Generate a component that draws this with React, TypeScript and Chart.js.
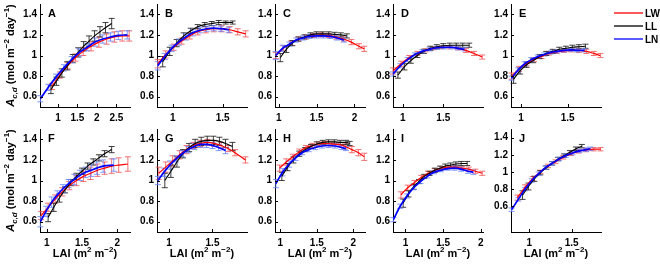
import React, { useEffect, useRef } from "react";
import { Chart, registerables } from "chart.js";
Chart.register(...registerables);

const FONT = '"Liberation Sans", Arial, Helvetica, sans-serif';

// ---------------- DATA ----------------
const SERIES_NAMES = ["LW", "LL", "LN"];
const Y_TICKS = [0.6, 0.8, 1, 1.2, 1.4];
const X_TICKS = [1, 1.5, 2, 2.5];

// Panel A
const A_LW_x = [0.85, 1.05, 1.25, 1.45, 1.65, 1.85, 2.05, 2.25, 2.45, 2.65, 2.83];
const A_LW_y = [0.7, 0.81, 0.9, 0.98, 1.04, 1.09, 1.13, 1.16, 1.18, 1.19, 1.19];
const A_LW_e = [0.03, 0.03, 0.03, 0.035, 0.04, 0.045, 0.05, 0.05, 0.05, 0.05, 0.05];
const A_LL_x = [0.82, 0.96, 1.1, 1.24, 1.38, 1.52, 1.66, 1.8, 1.94, 2.08, 2.22, 2.38];
const A_LL_y = [0.67, 0.75, 0.83, 0.9, 0.97, 1.03, 1.09, 1.14, 1.19, 1.23, 1.27, 1.31];
const A_LL_e = [0.04, 0.04, 0.04, 0.04, 0.04, 0.045, 0.045, 0.05, 0.05, 0.05, 0.05, 0.05];
const A_LN_x = [0.55, 0.75, 0.95, 1.15, 1.35, 1.55, 1.75, 1.95, 2.15, 2.35, 2.55, 2.78];
const A_LN_y = [0.58, 0.69, 0.79, 0.88, 0.96, 1.03, 1.08, 1.13, 1.16, 1.18, 1.195, 1.2];
const A_LN_e = [0.03, 0.03, 0.03, 0.03, 0.03, 0.035, 0.035, 0.04, 0.04, 0.04, 0.04, 0.04];

// Panel B
const B_LW_x = [0.85, 0.93, 1.01, 1.09, 1.17, 1.25, 1.33, 1.41, 1.49, 1.57, 1.65, 1.73];
const B_LW_y = [0.92, 1.01, 1.08, 1.14, 1.19, 1.23, 1.25, 1.26, 1.26, 1.25, 1.23, 1.21];
const B_LW_e = [0.04, 0.035, 0.03, 0.03, 0.03, 0.03, 0.03, 0.03, 0.03, 0.03, 0.03, 0.03];
const B_LL_x = [0.9, 0.97, 1.04, 1.11, 1.18, 1.25, 1.32, 1.39, 1.46, 1.53, 1.6];
const B_LL_y = [0.94, 1.04, 1.12, 1.19, 1.24, 1.28, 1.3, 1.31, 1.32, 1.32, 1.32];
const B_LL_e = [0.05, 0.04, 0.035, 0.03, 0.025, 0.02, 0.02, 0.02, 0.02, 0.015, 0.015];
const B_LN_x = [0.85, 0.92, 0.99, 1.06, 1.13, 1.2, 1.27, 1.34, 1.41, 1.48, 1.56];
const B_LN_y = [0.9, 0.99, 1.07, 1.13, 1.18, 1.22, 1.245, 1.26, 1.265, 1.26, 1.25];
const B_LN_e = [0.04, 0.03, 0.03, 0.03, 0.03, 0.03, 0.025, 0.025, 0.025, 0.025, 0.025];

// Panel C
const C_LW_x = [0.96, 1.06, 1.16, 1.26, 1.36, 1.46, 1.56, 1.66, 1.76, 1.86, 1.96, 2.06, 2.13];
const C_LW_y = [1.0, 1.07, 1.12, 1.16, 1.18, 1.195, 1.2, 1.195, 1.18, 1.16, 1.13, 1.09, 1.065];
const C_LW_e = [0.03, 0.025, 0.02, 0.02, 0.02, 0.02, 0.02, 0.02, 0.02, 0.02, 0.025, 0.025, 0.025];
const C_LL_x = [1.02, 1.1, 1.18, 1.26, 1.34, 1.42, 1.5, 1.58, 1.66, 1.74, 1.82, 1.9];
const C_LL_y = [0.98, 1.06, 1.12, 1.16, 1.18, 1.2, 1.21, 1.21, 1.21, 1.205, 1.2, 1.19];
const C_LL_e = [0.04, 0.03, 0.025, 0.02, 0.02, 0.02, 0.02, 0.02, 0.02, 0.02, 0.02, 0.02];
const C_LN_x = [0.96, 1.05, 1.14, 1.23, 1.32, 1.41, 1.5, 1.59, 1.68, 1.77, 1.86];
const C_LN_y = [1.0, 1.07, 1.11, 1.15, 1.17, 1.185, 1.19, 1.19, 1.185, 1.17, 1.15];
const C_LN_e = [0.04, 0.03, 0.02, 0.02, 0.02, 0.02, 0.02, 0.02, 0.02, 0.02, 0.02];

// Panel D
const D_LW_x = [0.88, 0.98, 1.08, 1.18, 1.28, 1.38, 1.48, 1.58, 1.68, 1.78, 1.88, 1.98];
const D_LW_y = [0.85, 0.92, 0.98, 1.02, 1.05, 1.07, 1.08, 1.08, 1.07, 1.05, 1.02, 0.985];
const D_LW_e = [0.03, 0.025, 0.02, 0.02, 0.015, 0.015, 0.015, 0.015, 0.015, 0.02, 0.02, 0.02];
const D_LL_x = [0.94, 1.02, 1.1, 1.18, 1.26, 1.34, 1.42, 1.5, 1.58, 1.66, 1.74, 1.82];
const D_LL_y = [0.81, 0.89, 0.95, 1.0, 1.04, 1.07, 1.085, 1.095, 1.1, 1.1, 1.1, 1.1];
const D_LL_e = [0.03, 0.03, 0.025, 0.02, 0.02, 0.02, 0.02, 0.02, 0.02, 0.02, 0.02, 0.02];
const D_LN_x = [0.88, 0.97, 1.06, 1.15, 1.24, 1.33, 1.42, 1.51, 1.6, 1.68, 1.76];
const D_LN_y = [0.82, 0.9, 0.96, 1.01, 1.04, 1.06, 1.075, 1.08, 1.08, 1.07, 1.06];
const D_LN_e = [0.02, 0.02, 0.02, 0.015, 0.015, 0.015, 0.015, 0.015, 0.015, 0.015, 0.015];

// Panel E
const E_LW_x = [0.9, 0.98, 1.06, 1.14, 1.22, 1.3, 1.38, 1.46, 1.54, 1.62, 1.7, 1.78, 1.85];
const E_LW_y = [0.8, 0.87, 0.92, 0.96, 0.99, 1.02, 1.035, 1.045, 1.05, 1.05, 1.04, 1.02, 1.0];
const E_LW_e = [0.03, 0.025, 0.02, 0.02, 0.02, 0.015, 0.015, 0.015, 0.015, 0.02, 0.02, 0.02, 0.02];
const E_LL_x = [0.92, 0.99, 1.06, 1.13, 1.2, 1.27, 1.34, 1.41, 1.48, 1.55, 1.62, 1.69];
const E_LL_y = [0.77, 0.85, 0.91, 0.95, 0.99, 1.02, 1.04, 1.06, 1.07, 1.08, 1.085, 1.09];
const E_LL_e = [0.04, 0.03, 0.025, 0.02, 0.02, 0.02, 0.02, 0.02, 0.02, 0.02, 0.02, 0.02];
const E_LN_x = [0.9, 0.97, 1.04, 1.11, 1.18, 1.25, 1.32, 1.39, 1.46, 1.53, 1.6, 1.68];
const E_LN_y = [0.78, 0.86, 0.92, 0.96, 0.99, 1.01, 1.03, 1.04, 1.05, 1.055, 1.05, 1.05];
const E_LN_e = [0.02, 0.02, 0.02, 0.02, 0.015, 0.015, 0.015, 0.015, 0.015, 0.015, 0.015, 0.015];

// Panel F
const F_LW_x = [0.92, 1.02, 1.12, 1.22, 1.32, 1.42, 1.52, 1.62, 1.72, 1.82, 1.92, 2.02, 2.15];
const F_LW_y = [0.66, 0.74, 0.82, 0.89, 0.95, 1.0, 1.04, 1.07, 1.1, 1.12, 1.14, 1.15, 1.16];
const F_LW_e = [0.04, 0.04, 0.04, 0.04, 0.04, 0.05, 0.05, 0.06, 0.06, 0.06, 0.07, 0.07, 0.07];
const F_LL_x = [1.02, 1.1, 1.18, 1.26, 1.34, 1.42, 1.5, 1.58, 1.66, 1.74, 1.82, 1.92];
const F_LL_y = [0.64, 0.74, 0.83, 0.91, 0.98, 1.04, 1.09, 1.14, 1.18, 1.22, 1.26, 1.3];
const F_LL_e = [0.04, 0.04, 0.04, 0.03, 0.03, 0.03, 0.03, 0.03, 0.03, 0.03, 0.03, 0.03];
const F_LN_x = [0.91, 0.99, 1.07, 1.15, 1.23, 1.31, 1.39, 1.47, 1.55, 1.63, 1.71, 1.8, 1.95];
const F_LN_y = [0.6, 0.7, 0.79, 0.86, 0.92, 0.97, 1.01, 1.05, 1.08, 1.1, 1.12, 1.14, 1.15];
const F_LN_e = [0.05, 0.05, 0.05, 0.04, 0.04, 0.04, 0.05, 0.05, 0.05, 0.06, 0.06, 0.06, 0.06];

// Panel G
const G_LW_x = [0.88, 0.96, 1.04, 1.12, 1.2, 1.28, 1.36, 1.44, 1.52, 1.6, 1.68, 1.76, 1.88];
const G_LW_y = [1.07, 1.13, 1.19, 1.25, 1.3, 1.34, 1.36, 1.37, 1.36, 1.34, 1.31, 1.27, 1.2];
const G_LW_e = [0.06, 0.05, 0.05, 0.04, 0.04, 0.03, 0.03, 0.03, 0.03, 0.03, 0.03, 0.03, 0.03];
const G_LL_x = [0.95, 1.02, 1.09, 1.16, 1.23, 1.3, 1.37, 1.44, 1.51, 1.58, 1.65, 1.73];
const G_LL_y = [1.0, 1.09, 1.18, 1.26, 1.32, 1.36, 1.38, 1.39, 1.39, 1.38, 1.36, 1.33];
const G_LL_e = [0.07, 0.06, 0.05, 0.04, 0.04, 0.04, 0.04, 0.04, 0.04, 0.04, 0.04, 0.04];
const G_LN_x = [0.87, 0.94, 1.01, 1.08, 1.15, 1.22, 1.29, 1.36, 1.43, 1.5, 1.57, 1.65];
const G_LN_y = [1.0, 1.08, 1.15, 1.21, 1.26, 1.3, 1.33, 1.35, 1.35, 1.34, 1.32, 1.29];
const G_LN_e = [0.04, 0.04, 0.04, 0.03, 0.03, 0.03, 0.03, 0.03, 0.03, 0.03, 0.03, 0.03];

// Panel H
const H_LW_x = [0.99, 1.08, 1.17, 1.26, 1.35, 1.44, 1.53, 1.62, 1.71, 1.8, 1.89, 1.98, 2.07, 2.15];
const H_LW_y = [1.12, 1.18, 1.23, 1.28, 1.32, 1.34, 1.355, 1.36, 1.355, 1.35, 1.33, 1.3, 1.27, 1.23];
const H_LW_e = [0.03, 0.03, 0.025, 0.025, 0.02, 0.02, 0.02, 0.02, 0.02, 0.02, 0.025, 0.03, 0.03, 0.035];
const H_LL_x = [1.02, 1.1, 1.18, 1.26, 1.34, 1.42, 1.5, 1.58, 1.66, 1.74, 1.82, 1.9, 1.95];
const H_LL_y = [1.04, 1.13, 1.2, 1.26, 1.3, 1.33, 1.355, 1.37, 1.375, 1.375, 1.37, 1.37, 1.36];
const H_LL_e = [0.04, 0.035, 0.03, 0.025, 0.02, 0.02, 0.02, 0.02, 0.02, 0.02, 0.02, 0.02, 0.02];
const H_LN_x = [0.94, 1.03, 1.12, 1.21, 1.3, 1.39, 1.48, 1.57, 1.66, 1.75, 1.84, 1.9];
const H_LN_y = [0.97, 1.08, 1.16, 1.22, 1.27, 1.3, 1.32, 1.335, 1.34, 1.335, 1.32, 1.31];
const H_LN_e = [0.04, 0.035, 0.03, 0.025, 0.02, 0.02, 0.02, 0.02, 0.02, 0.02, 0.02, 0.02];

// Panel I
const I_LW_x = [0.94, 1.03, 1.12, 1.21, 1.3, 1.39, 1.48, 1.57, 1.66, 1.75, 1.84, 1.93, 2.02];
const I_LW_y = [0.86, 0.93, 0.98, 1.03, 1.07, 1.1, 1.12, 1.13, 1.13, 1.12, 1.11, 1.09, 1.07];
const I_LW_e = [0.03, 0.025, 0.02, 0.02, 0.02, 0.015, 0.015, 0.015, 0.015, 0.015, 0.02, 0.02, 0.02];
const I_LL_x = [0.97, 1.04, 1.11, 1.18, 1.25, 1.32, 1.39, 1.46, 1.53, 1.6, 1.67, 1.74, 1.82];
const I_LL_y = [0.78, 0.87, 0.94, 0.99, 1.04, 1.07, 1.1, 1.12, 1.14, 1.15, 1.16, 1.165, 1.165];
const I_LL_e = [0.04, 0.03, 0.025, 0.02, 0.02, 0.02, 0.02, 0.02, 0.02, 0.02, 0.02, 0.02, 0.02];
const I_LN_x = [0.84, 0.93, 1.02, 1.11, 1.2, 1.29, 1.38, 1.47, 1.56, 1.65, 1.74, 1.83, 1.9];
const I_LN_y = [0.62, 0.75, 0.85, 0.93, 0.99, 1.04, 1.08, 1.1, 1.115, 1.12, 1.11, 1.09, 1.08];
const I_LN_e = [0.02, 0.02, 0.02, 0.02, 0.02, 0.015, 0.015, 0.015, 0.015, 0.02, 0.02, 0.02, 0.02];

// Panel J
const J_LW_x = [0.86, 0.95, 1.04, 1.13, 1.22, 1.31, 1.4, 1.49, 1.58, 1.67, 1.76, 1.84];
const J_LW_y = [0.7, 0.82, 0.92, 1.0, 1.07, 1.12, 1.17, 1.21, 1.24, 1.255, 1.265, 1.265];
const J_LW_e = [0.03, 0.03, 0.025, 0.02, 0.02, 0.02, 0.02, 0.02, 0.02, 0.02, 0.02, 0.02];
const J_LL_x = [0.92, 0.99, 1.06, 1.13, 1.2, 1.27, 1.34, 1.41, 1.48, 1.55, 1.62];
const J_LL_y = [0.73, 0.83, 0.92, 0.99, 1.05, 1.1, 1.15, 1.19, 1.23, 1.27, 1.3];
const J_LL_e = [0.05, 0.04, 0.03, 0.025, 0.02, 0.02, 0.02, 0.02, 0.02, 0.02, 0.02];
const J_LN_x = [0.79, 0.87, 0.95, 1.03, 1.11, 1.19, 1.27, 1.35, 1.43, 1.51, 1.59, 1.67, 1.72];
const J_LN_y = [0.56, 0.68, 0.8, 0.9, 0.98, 1.05, 1.1, 1.15, 1.19, 1.22, 1.245, 1.26, 1.27];
const J_LN_e = [0.02, 0.02, 0.02, 0.02, 0.02, 0.02, 0.02, 0.02, 0.02, 0.02, 0.02, 0.02, 0.02];

// ---------------- LAYOUT / STYLE ----------------
type S = { x: number[]; y: number[]; e: number[] };
const ser = (x: number[], y: number[], e: number[]): S => ({ x, y, e });

interface PanelDef {
  letter: string;
  col: number;
  row: number;
  xMin: number;
  xMax: number;
  yMin: number;
  yMax: number;
  LW: S;
  LL: S;
  LN: S;
}

const PANELS: PanelDef[] = [
  { letter: "A", col: 0, row: 0, xMin: 0.54, xMax: 2.85, yMin: 0.5, yMax: 1.5, LW: ser(A_LW_x, A_LW_y, A_LW_e), LL: ser(A_LL_x, A_LL_y, A_LL_e), LN: ser(A_LN_x, A_LN_y, A_LN_e) },
  { letter: "B", col: 1, row: 0, xMin: 0.843, xMax: 1.743, yMin: 0.5, yMax: 1.5, LW: ser(B_LW_x, B_LW_y, B_LW_e), LL: ser(B_LL_x, B_LL_y, B_LL_e), LN: ser(B_LN_x, B_LN_y, B_LN_e) },
  { letter: "C", col: 2, row: 0, xMin: 0.95, xMax: 2.14, yMin: 0.5, yMax: 1.5, LW: ser(C_LW_x, C_LW_y, C_LW_e), LL: ser(C_LL_x, C_LL_y, C_LL_e), LN: ser(C_LN_x, C_LN_y, C_LN_e) },
  { letter: "D", col: 3, row: 0, xMin: 0.88, xMax: 1.99, yMin: 0.5, yMax: 1.5, LW: ser(D_LW_x, D_LW_y, D_LW_e), LL: ser(D_LL_x, D_LL_y, D_LL_e), LN: ser(D_LN_x, D_LN_y, D_LN_e) },
  { letter: "E", col: 4, row: 0, xMin: 0.893, xMax: 1.857, yMin: 0.5, yMax: 1.5, LW: ser(E_LW_x, E_LW_y, E_LW_e), LL: ser(E_LL_x, E_LL_y, E_LL_e), LN: ser(E_LN_x, E_LN_y, E_LN_e) },
  { letter: "F", col: 0, row: 1, xMin: 0.905, xMax: 2.18, yMin: 0.5, yMax: 1.5, LW: ser(F_LW_x, F_LW_y, F_LW_e), LL: ser(F_LL_x, F_LL_y, F_LL_e), LN: ser(F_LN_x, F_LN_y, F_LN_e) },
  { letter: "G", col: 1, row: 1, xMin: 0.86, xMax: 1.898, yMin: 0.5, yMax: 1.5, LW: ser(G_LW_x, G_LW_y, G_LW_e), LL: ser(G_LL_x, G_LL_y, G_LL_e), LN: ser(G_LN_x, G_LN_y, G_LN_e) },
  { letter: "H", col: 2, row: 1, xMin: 0.927, xMax: 2.16, yMin: 0.5, yMax: 1.5, LW: ser(H_LW_x, H_LW_y, H_LW_e), LL: ser(H_LL_x, H_LL_y, H_LL_e), LN: ser(H_LN_x, H_LN_y, H_LN_e) },
  { letter: "I", col: 3, row: 1, xMin: 0.835, xMax: 2.03, yMin: 0.5, yMax: 1.5, LW: ser(I_LW_x, I_LW_y, I_LW_e), LL: ser(I_LL_x, I_LL_y, I_LL_e), LN: ser(I_LN_x, I_LN_y, I_LN_e) },
  { letter: "J", col: 4, row: 1, xMin: 0.784, xMax: 1.846, yMin: 0.3, yMax: 1.5, LW: ser(J_LW_x, J_LW_y, J_LW_e), LL: ser(J_LL_x, J_LL_y, J_LL_e), LN: ser(J_LN_x, J_LN_y, J_LN_e) },
];

const COL_LEFT = [40, 157, 275, 393, 511];
const ROW_TOP = [4, 129];
const PW = 90;
const PH = 103;
const PAD_L = 40;
const PAD_T = 4;
const PAD_R = 10;
const ROW_CANVAS_H = [127, 138];

const STYLE: Record<string, { line: string; err: string; width: number }> = {
  LW: { line: "#ff0000", err: "rgba(240,80,80,0.8)", width: 1.2 },
  LL: { line: "#000000", err: "rgba(30,30,30,0.85)", width: 1.1 },
  LN: { line: "#0000ff", err: "rgba(100,130,255,0.8)", width: 1.7 },
};

type Part = { t: string; k?: "sub" | "sup"; i?: boolean };
const Y_TITLE: Part[] = [
  { t: "A", i: true },
  { t: "c,d", k: "sub", i: true },
  { t: " (mol m" },
  { t: "\u22122", k: "sup" },
  { t: " day" },
  { t: "\u22121", k: "sup" },
  { t: ")" },
];
const X_TITLE: Part[] = [{ t: "LAI (m" }, { t: "2", k: "sup" }, { t: " m" }, { t: "\u22122", k: "sup" }, { t: ")" }];

function drawRich(ctx: CanvasRenderingContext2D, parts: Part[], cx: number, cy: number, size: number) {
  const small = Math.round(size * 0.72);
  const fontOf = (p: Part) => `${p.i ? "italic " : ""}bold ${p.k ? small : size}px ${FONT}`;
  let w = 0;
  for (const p of parts) {
    ctx.font = fontOf(p);
    w += ctx.measureText(p.t).width;
  }
  let x = cx - w / 2;
  const base = cy + size * 0.36;
  ctx.textAlign = "left";
  ctx.textBaseline = "alphabetic";
  for (const p of parts) {
    ctx.font = fontOf(p);
    const dy = p.k === "sub" ? size * 0.3 : p.k === "sup" ? -size * 0.42 : 0;
    ctx.fillText(p.t, x, base + dy);
    x += ctx.measureText(p.t).width;
  }
}

const fmt = (v: number | string) => String(+Number(v).toFixed(2));

const decorPlugin = {
  id: "panelDecor",
  beforeDatasetsDraw(chart: any) {
    const { ctx } = chart;
    const xs = chart.scales.x;
    const ys = chart.scales.y;
    ctx.save();
    for (const i of [2, 1, 0]) {
      const ds: any = chart.data.datasets[i];
      ctx.strokeStyle = ds.errColor;
      ctx.lineWidth = 1;
      ds.data.forEach((p: any, k: number) => {
        const e = ds.errors[k];
        const px = xs.getPixelForValue(p.x);
        const y1 = ys.getPixelForValue(p.y - e);
        const y2 = ys.getPixelForValue(p.y + e);
        ctx.beginPath();
        ctx.moveTo(px, y1);
        ctx.lineTo(px, y2);
        ctx.moveTo(px - 3, y1);
        ctx.lineTo(px + 3, y1);
        ctx.moveTo(px - 3, y2);
        ctx.lineTo(px + 3, y2);
        ctx.stroke();
      });
    }
    ctx.restore();
  },
  afterDraw(chart: any, _args: any, opts: any) {
    const { ctx, chartArea } = chart;
    const xs = chart.scales.x;
    const ys = chart.scales.y;
    ctx.save();
    ctx.strokeStyle = "#000";
    ctx.lineWidth = 1;
    ctx.beginPath();
    for (const t of xs.ticks) {
      const px = Math.round(xs.getPixelForValue(t.value)) + 0.5;
      ctx.moveTo(px, chartArea.bottom);
      ctx.lineTo(px, chartArea.bottom - 3);
    }
    for (const t of ys.ticks) {
      const py = Math.round(ys.getPixelForValue(t.value)) + 0.5;
      ctx.moveTo(chartArea.left, py);
      ctx.lineTo(chartArea.left + 3, py);
    }
    ctx.stroke();

    ctx.fillStyle = "#000";
    ctx.font = `bold 11px ${FONT}`;
    ctx.textAlign = "left";
    ctx.textBaseline = "middle";
    ctx.fillText(opts.letter, chartArea.left + 8, chartArea.top + 10);

    if (opts.yTitle) {
      ctx.save();
      ctx.translate(10, (chartArea.top + chartArea.bottom) / 2);
      ctx.rotate(-Math.PI / 2);
      drawRich(ctx, Y_TITLE, 0, 0, 11);
      ctx.restore();
    }
    if (opts.xTitle) {
      drawRich(ctx, X_TITLE, (chartArea.left + chartArea.right) / 2, chartArea.bottom + 21, 11);
    }
    if (opts.legend) {
      const x0 = opts.legendX;
      const ysL = [13, 26, 39];
      SERIES_NAMES.forEach((name, i) => {
        ctx.strokeStyle = STYLE[name].line;
        ctx.lineWidth = 1.3;
        ctx.beginPath();
        ctx.moveTo(x0, ysL[i]);
        ctx.lineTo(x0 + 29, ysL[i]);
        ctx.stroke();
        ctx.fillStyle = "#000";
        ctx.font = `bold 10px ${FONT}`;
        ctx.textAlign = "left";
        ctx.textBaseline = "middle";
        ctx.fillText(name, x0 + 31, ysL[i] + 1);
      });
    }
    ctx.restore();
  },
};

function zeroPad(s: any) {
  s.paddingTop = 0;
  s.paddingBottom = 0;
  s.paddingLeft = 0;
  s.paddingRight = 0;
}

function PanelChart({ def }: { def: PanelDef }) {
  const ref = useRef<HTMLCanvasElement>(null);
  const isLegend = def.col === 4 && def.row === 0;
  const left = COL_LEFT[def.col] - PAD_L;
  const top = ROW_TOP[def.row] - PAD_T;
  const width = isLegend ? 660 - left : PAD_L + PW + PAD_R;
  const height = ROW_CANVAS_H[def.row];
  const padR = width - PAD_L - PW;
  const xAxisH = height - PAD_T - PH;

  useEffect(() => {
    const mk = (name: "LW" | "LL" | "LN", order: number) => {
      const s = def[name];
      return {
        label: name,
        data: s.x.map((x, i) => ({ x, y: s.y[i] })),
        errors: s.e,
        errColor: STYLE[name].err,
        borderColor: STYLE[name].line,
        borderWidth: STYLE[name].width,
        pointRadius: 0,
        fill: false,
        cubicInterpolationMode: "monotone",
        order,
      };
    };
    const xt = X_TICKS.filter((v) => v >= def.xMin && v <= def.xMax);
    const yt = Y_TICKS.filter((v) => v >= def.yMin && v <= def.yMax);
    const tickFont = { family: FONT, size: 10, weight: "bold" as const };
    const chart = new Chart(ref.current as HTMLCanvasElement, {
      type: "line",
      data: { datasets: [mk("LN", 0), mk("LL", 1), mk("LW", 2)] as any },
      options: {
        animation: false,
        responsive: false,
        devicePixelRatio: 1,
        events: [],
        layout: { padding: { left: 0, top: PAD_T, right: padR, bottom: 0 }, autoPadding: false },
        plugins: {
          legend: { display: false },
          tooltip: { enabled: false },
          panelDecor: {
            letter: def.letter,
            yTitle: def.col === 0,
            xTitle: def.row === 1,
            legend: isLegend,
            legendX: 614 - left,
          },
        } as any,
        scales: {
          x: {
            type: "linear",
            min: def.xMin,
            max: def.xMax,
            grid: { display: false, drawTicks: false },
            border: { display: true, color: "#000", width: 1 },
            ticks: { font: tickFont, color: "#000", padding: 5, maxRotation: 0, autoSkip: false, callback: (v: any) => fmt(v) },
            afterBuildTicks: (s: any) => {
              s.ticks = xt.map((v) => ({ value: v }));
            },
            afterFit: (s: any) => {
              s.height = xAxisH;
              zeroPad(s);
            },
          },
          y: {
            type: "linear",
            min: def.yMin,
            max: def.yMax,
            grid: { display: false, drawTicks: false },
            border: { display: true, color: "#000", width: 1 },
            ticks: { font: tickFont, color: "#000", padding: 3, autoSkip: false, callback: (v: any) => fmt(v) },
            afterBuildTicks: (s: any) => {
              s.ticks = yt.map((v) => ({ value: v }));
            },
            afterFit: (s: any) => {
              s.width = PAD_L;
              zeroPad(s);
            },
          },
        },
      } as any,
      plugins: [decorPlugin as any],
    });
    return () => chart.destroy();
  }, [def]);

  return (
    <canvas
      ref={ref}
      width={width}
      height={height}
      style={{ position: "absolute", left, top, width, height }}
    />
  );
}

export default function App() {
  return (
    <div style={{ position: "absolute", left: 0, top: 0, width: 660, height: 267, background: "#fff", overflow: "hidden" }}>
      {PANELS.map((p) => (
        <PanelChart key={p.letter} def={p} />
      ))}
    </div>
  );
}
